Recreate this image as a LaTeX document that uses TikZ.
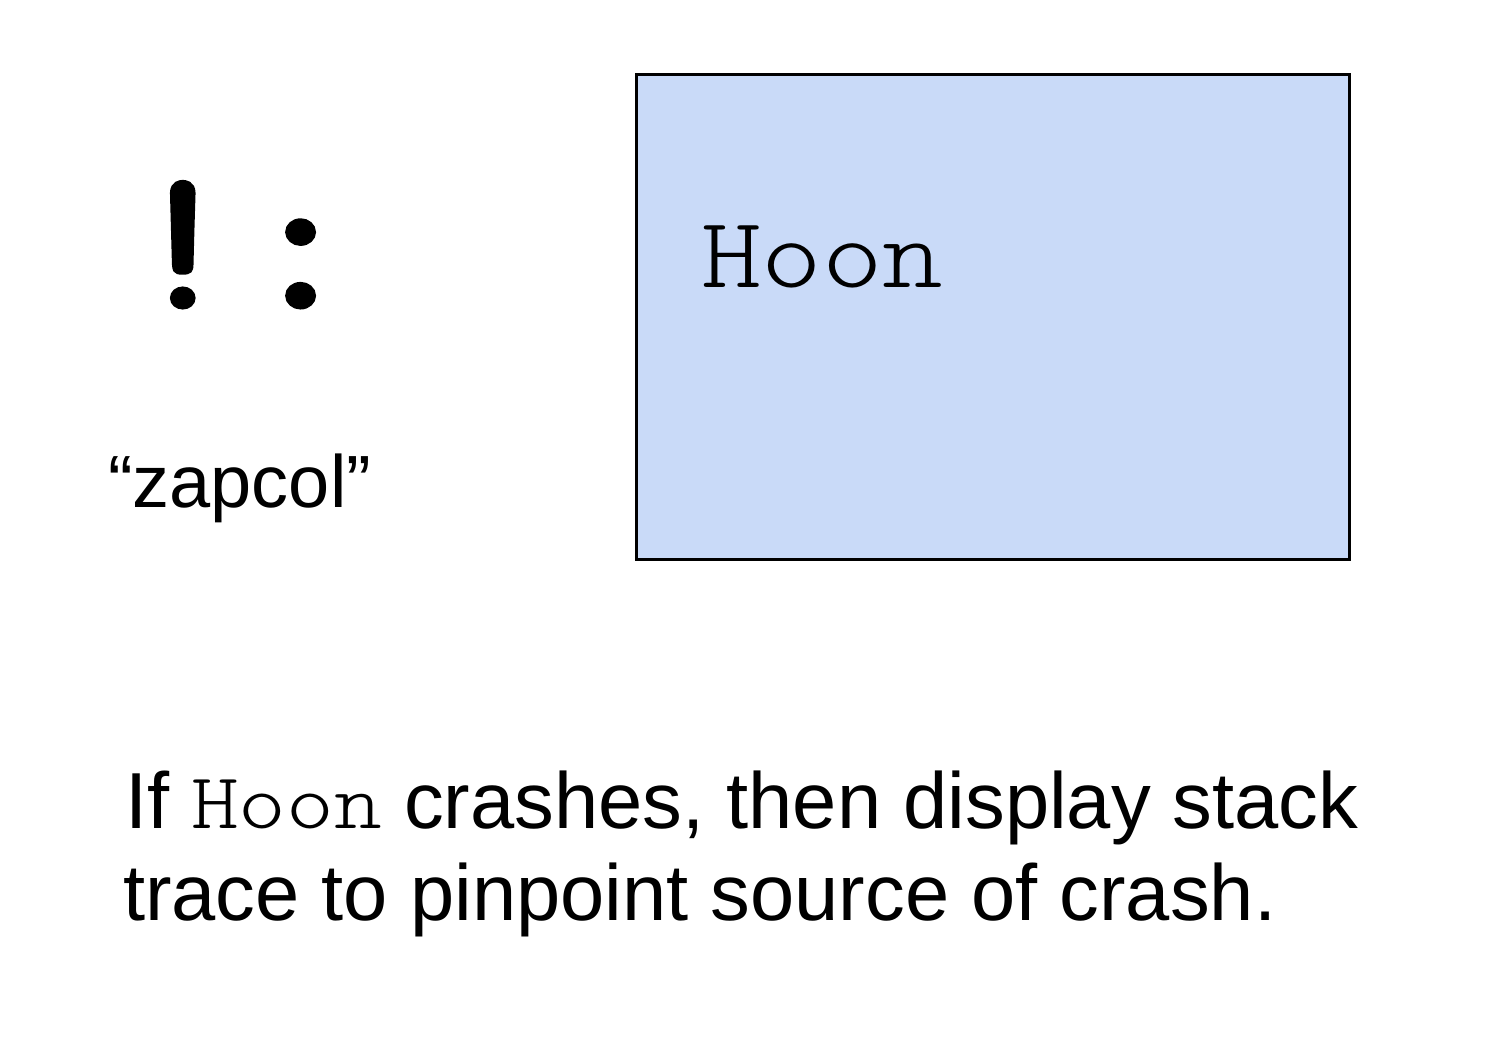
\documentclass[tikz,border=0pt]{standalone}
\usepackage{fontspec}
\setmainfont{Liberation Sans}
% slab-serif typewriter faces, widened to a 0.6em advance
\newfontfamily\monofont{Latin Modern Mono Light}[FakeStretch=1.143]
\newfontfamily\runefont{Latin Modern Mono}[FakeStretch=1.143,FakeBold=2.5]
\definecolor{boxblue}{HTML}{C9DAF8}
\begin{document}
\begin{tikzpicture}[x=1pt,y=-1pt,
  txt/.style={inner sep=0pt, outer sep=0pt, anchor=base west},
  codebox/.style={draw=black, line width=3pt, fill=boxblue}]
\useasboundingbox (0,0) rectangle (1508,1062);
% rune glyphs
\node[txt] (rune) at (124,307) {\runefont\fontsize{200}{210}\selectfont !:};
\node[txt] (name) at (108,507) {\fontsize{74}{90}\selectfont “zapcol”};
% code box
\draw[codebox] (636,75) rectangle (1349,559);
\node[txt] (hoon) at (701,287) {\monofont\fontsize{101}{110}\selectfont Hoon};
% description
\node[txt] (line1) at (125,828) {\fontsize{79.5}{92}\selectfont If {\monofont Hoon} crashes, then display stack};
\node[txt] (line2) at (123,920) {\fontsize{79.5}{92}\selectfont trace to pinpoint source of crash.};
\end{tikzpicture}
\end{document}
